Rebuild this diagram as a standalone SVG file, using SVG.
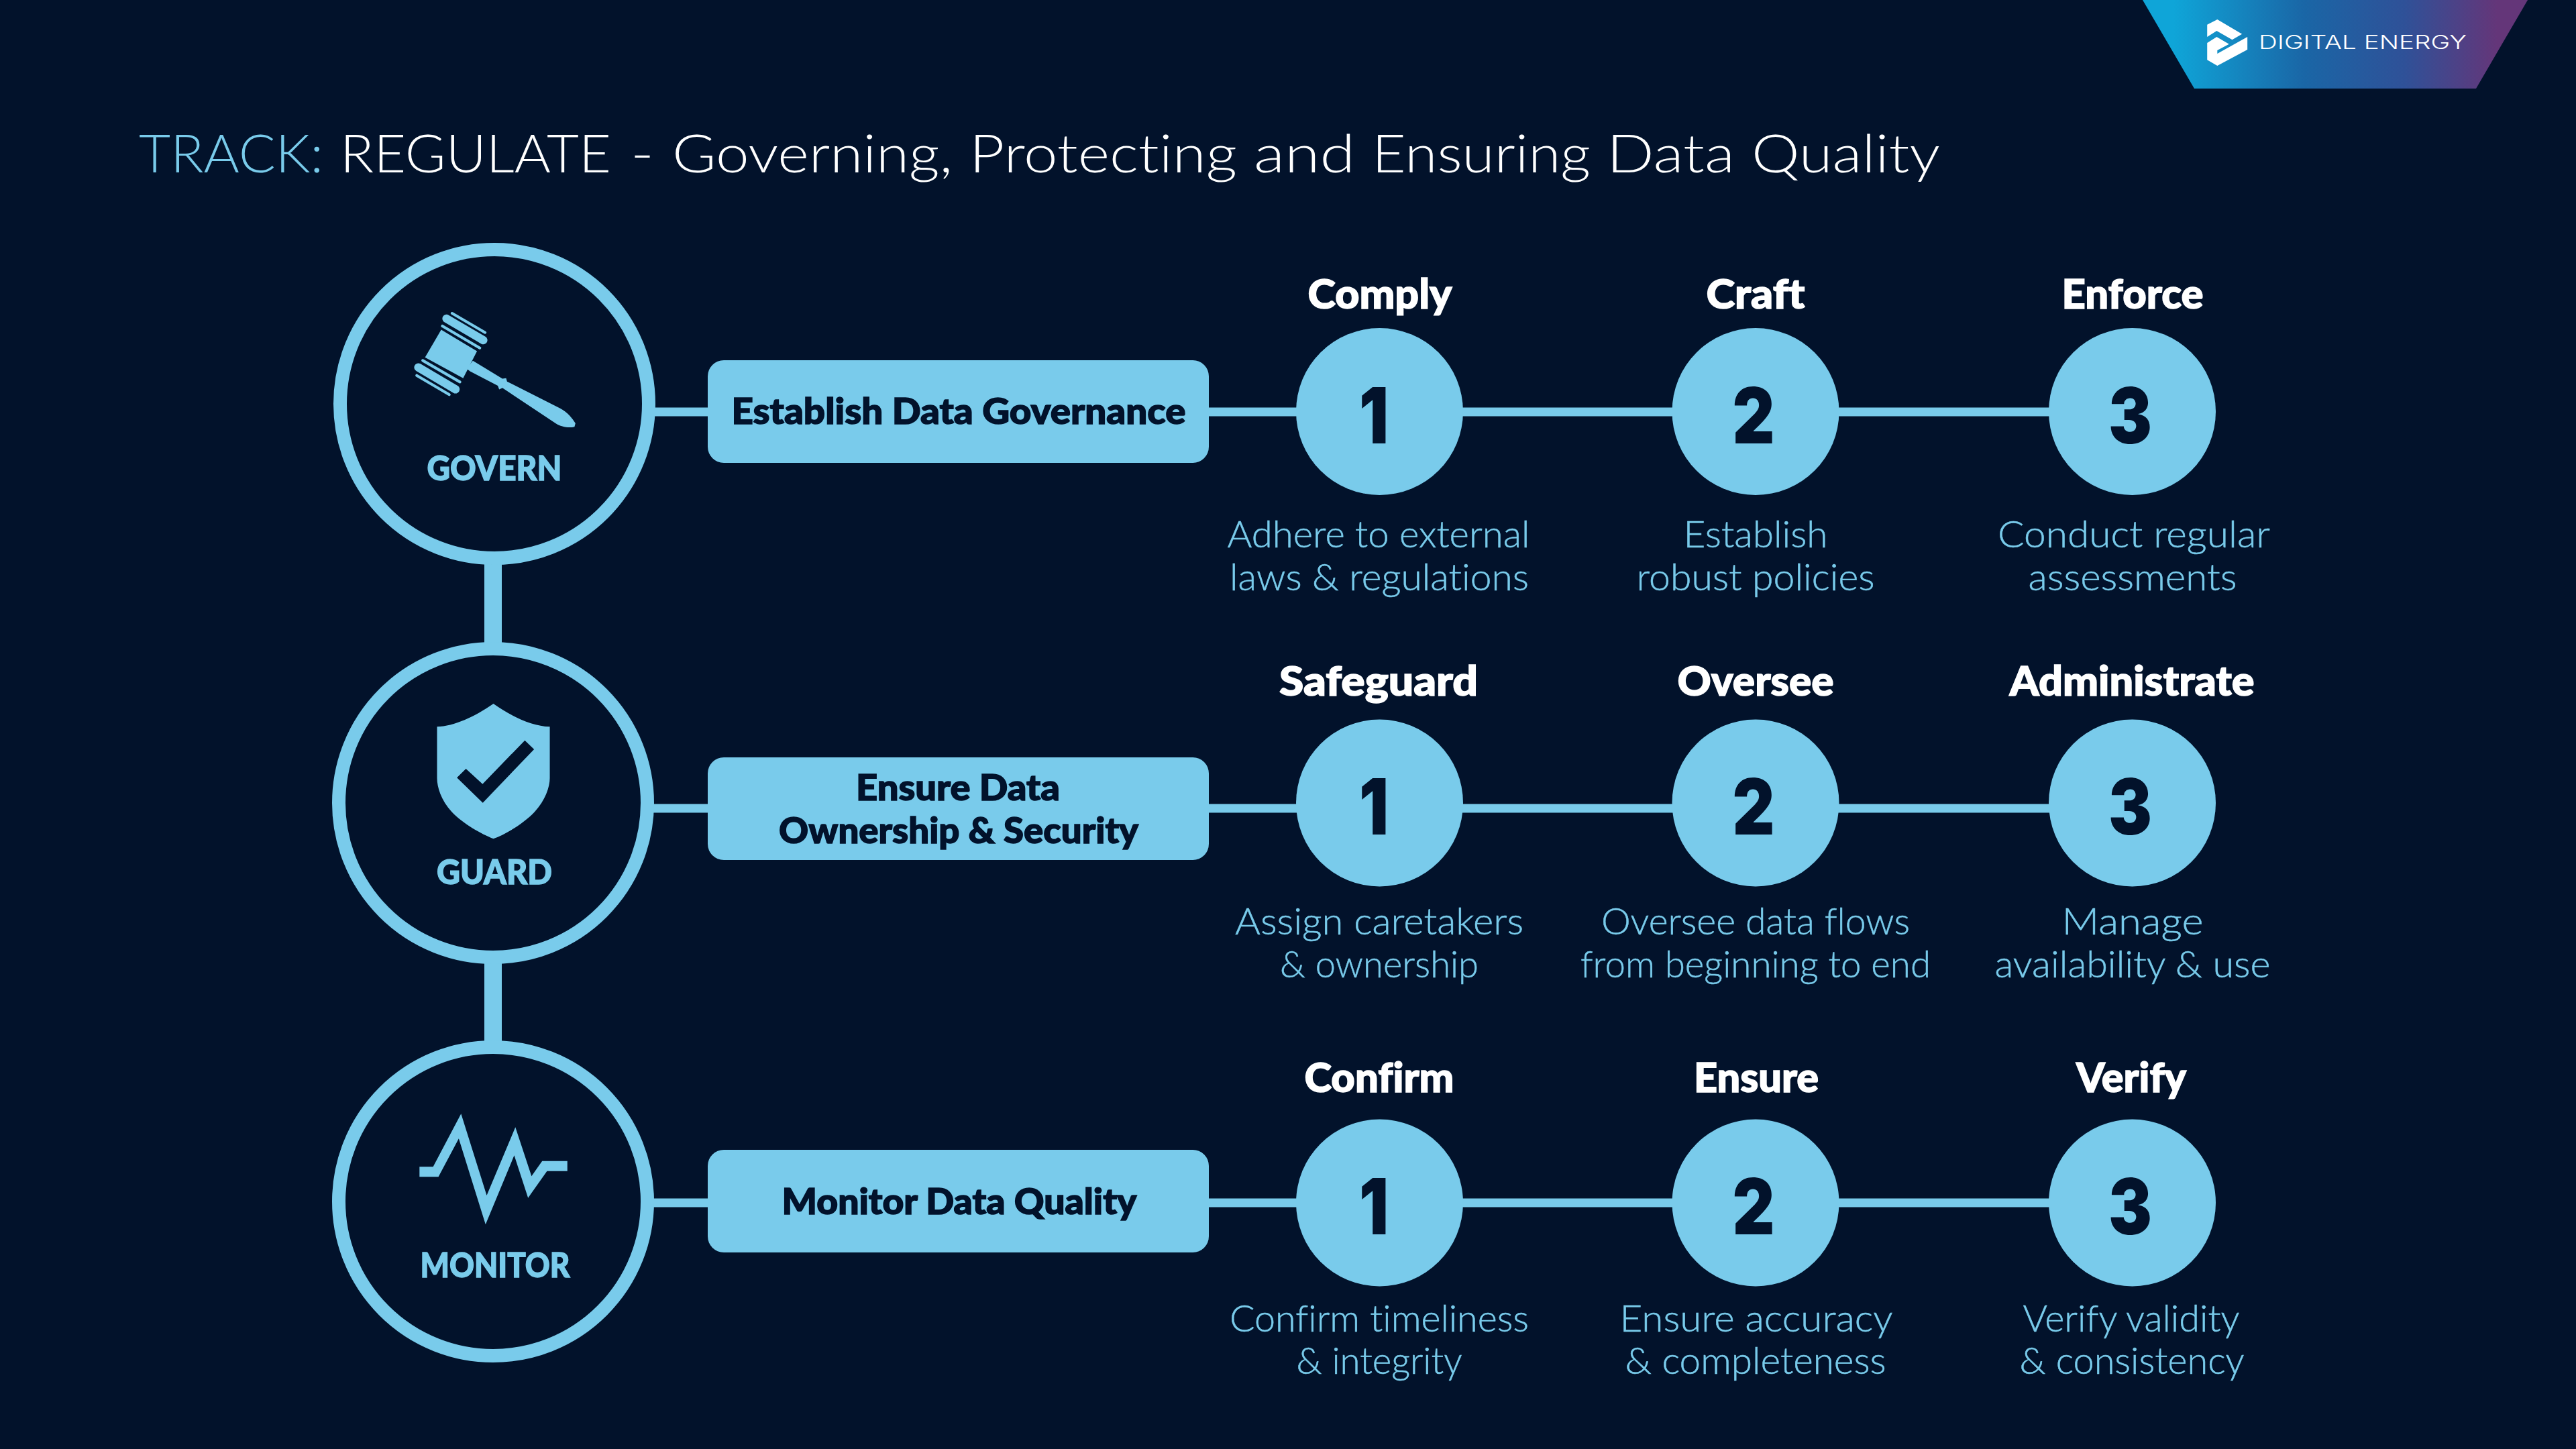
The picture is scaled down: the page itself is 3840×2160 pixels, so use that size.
<svg xmlns="http://www.w3.org/2000/svg" width="3840" height="2160" viewBox="0 0 3840 2160">
<defs>
<linearGradient id="bannerGrad" x1="0" y1="0" x2="1" y2="0">
<stop offset="0.08" stop-color="#0fa5d8"/><stop offset="0.42" stop-color="#1a66a6"/><stop offset="0.68" stop-color="#2f5198"/><stop offset="0.92" stop-color="#643679"/>
</linearGradient>
</defs>
<style>
.l{fill:#79cbeb}
.d{fill:#02122b}
.ring{fill:#02122b;stroke:#79cbeb;stroke-width:20}
.conn{stroke:#79cbeb;fill:none}
text{font-family:"Lato","Liberation Sans",sans-serif;text-anchor:middle;font-variant-ligatures:none}
.title{font-size:78px;font-weight:300;text-anchor:start;fill:#fff}
.nl{font-size:52px;font-weight:900;fill:#79cbeb;stroke:#79cbeb;stroke-width:1.5}
.bl{font-size:54px;font-weight:900;fill:#02122b;stroke:#02122b;stroke-width:1.5}
.h{font-size:60px;font-weight:900;fill:#fff;stroke:#fff;stroke-width:1.5}
.t{font-size:55px;font-weight:300;fill:#79cbeb;stroke:#79cbeb;stroke-width:.5}
.n{font-family:"Inter","Liberation Sans",sans-serif;font-size:115px;font-weight:900;fill:#02122b}
.lg{font-family:"Inter","Liberation Sans",sans-serif;font-size:28px;font-weight:300;fill:#fff}
</style>
<rect width="3840" height="2160" fill="#02122b"/>
<g id="banner">
<polygon points="3194,0 3768,0 3691,132 3271,132" fill="url(#bannerGrad)"/>
<g transform="translate(3100,0) scale(.472,.3333)" fill="#fff">
<polygon points="403,110 435,87 513,152 482,178 433,138 403,165"/>
<polygon points="403,192 433,165 472,197 435,225 435,240 530,165 530,222 435,294 403,268"/>
</g>
<text class="lg" x="3522" y="73" textLength="310" lengthAdjust="spacingAndGlyphs">DIGITAL ENERGY</text>
</g>
<text id="title" class="title" y="257"><tspan x="207" fill="#79cbeb" textLength="275" lengthAdjust="spacingAndGlyphs">TRACK:</tspan> <tspan x="507" textLength="404" lengthAdjust="spacingAndGlyphs">REGULATE</tspan> <tspan x="940" textLength="35" lengthAdjust="spacingAndGlyphs">-</tspan> <tspan x="1002" textLength="418" lengthAdjust="spacingAndGlyphs">Governing,</tspan> <tspan x="1445" textLength="399" lengthAdjust="spacingAndGlyphs">Protecting</tspan> <tspan x="1869" textLength="151" lengthAdjust="spacingAndGlyphs">and</tspan> <tspan x="2045" textLength="326" lengthAdjust="spacingAndGlyphs">Ensuring</tspan> <tspan x="2395" textLength="191" lengthAdjust="spacingAndGlyphs">Data</tspan> <tspan x="2611" textLength="281" lengthAdjust="spacingAndGlyphs">Quality</tspan></text>
<g id="connectors" class="conn">
<line x1="735" y1="835" x2="735" y2="965" stroke-width="26"/>
<line x1="735" y1="1430" x2="735" y2="1560" stroke-width="26"/>
<line x1="970" y1="614" x2="3060" y2="614" stroke-width="13"/>
<line x1="970" y1="1205" x2="3060" y2="1205" stroke-width="13"/>
<line x1="970" y1="1793" x2="3060" y2="1793" stroke-width="13"/>
</g>
<g id="govern">
<circle class="ring" cx="737" cy="602" r="230"/>
<g transform="translate(470,340) scale(.3444)">
<polygon class="l" points="545,440 700,533 640,650 475,560"/>
<g class="conn" stroke-linecap="round">
<line x1="568" y1="392" x2="727" y2="485" stroke-width="36"/>
<line x1="592" y1="369" x2="735" y2="452" stroke-width="12"/>
<line x1="550" y1="424" x2="712" y2="519" stroke-width="12"/>
<line x1="465" y1="573" x2="626" y2="666" stroke-width="12"/>
<line x1="446" y1="603" x2="607" y2="698" stroke-width="36"/>
<line x1="439" y1="638" x2="580" y2="721" stroke-width="12"/>
</g>
<path class="l" d="M682,574 L705,588 L810,652 L826,650 L830,664 L1060,780 C1090,795 1115,825 1126,845 L1122,860 C1100,866 1065,862 1040,845 L810,692 L796,698 L790,682 L670,620 L655,608Z"/>
</g>
<text class="nl" x="737" y="716" textLength="201" lengthAdjust="spacingAndGlyphs">GOVERN</text>
</g>
<g id="guard">
<circle class="ring" cx="735" cy="1197" r="230"/>
<g transform="translate(470,940) scale(.3444,.3333)">
<path class="l" d="M771,327 C690,385 600,428 527,430 L527,660 C527,700 545,760 590,810 C640,865 720,910 771,931 C825,910 900,865 950,810 C995,760 1015,700 1015,660 L1015,430 C940,428 850,385 771,327Z"/>
<polygon class="d" points="613,658 652,618 724,686 907,491 947,531 725,770"/>
</g>
<text class="nl" x="737" y="1318" textLength="172" lengthAdjust="spacingAndGlyphs">GUARD</text>
</g>
<g id="monitor">
<circle class="ring" cx="735" cy="1791" r="230"/>
<polygon class="l" transform="translate(470,1540) scale(.3444,.3333)" points="451,598 510,598 631,361 742,726 866,421 936,640 982,572 1091,572 1091,617 1003,617 921,737 861,547 737,856 621,472 533,643 451,643"/>
<text class="nl" x="738" y="1904" textLength="223" lengthAdjust="spacingAndGlyphs">MONITOR</text>
</g>
<g id="box-governance">
<rect class="l" x="1055" y="537" width="747" height="153" rx="24"/>
<text class="bl" x="1429" y="632" textLength="677" lengthAdjust="spacingAndGlyphs">Establish Data Governance</text>
</g>
<g id="box-ownership">
<rect class="l" x="1055" y="1129" width="747" height="153" rx="24"/>
<text class="bl" x="1428" y="1193" textLength="304" lengthAdjust="spacingAndGlyphs">Ensure Data</text>
<text class="bl" x="1429" y="1257" textLength="536" lengthAdjust="spacingAndGlyphs">Ownership &amp; Security</text>
</g>
<g id="box-quality">
<rect class="l" x="1055" y="1714" width="747" height="153" rx="24"/>
<text class="bl" x="1430" y="1810" textLength="529" lengthAdjust="spacingAndGlyphs">Monitor Data Quality</text>
</g>
<g id="comply"><text class="h" x="2057" y="460" textLength="215" lengthAdjust="spacingAndGlyphs">Comply</text><circle class="l" cx="2056.5" cy="613.5" r="124.5"/><text class="n" x="2048" y="661" textLength="44" lengthAdjust="spacingAndGlyphs">1</text><text class="t" x="2055" y="816" textLength="451" lengthAdjust="spacingAndGlyphs">Adhere to external</text><text class="t" x="2056" y="880" textLength="446" lengthAdjust="spacingAndGlyphs">laws &amp; regulations</text></g>
<g id="craft"><text class="h" x="2617" y="460" textLength="147" lengthAdjust="spacingAndGlyphs">Craft</text><circle class="l" cx="2617" cy="613.5" r="124.5"/><text class="n" x="2614" y="661" textLength="63" lengthAdjust="spacingAndGlyphs">2</text><text class="t" x="2617" y="816" textLength="215" lengthAdjust="spacingAndGlyphs">Establish</text><text class="t" x="2617" y="880" textLength="355" lengthAdjust="spacingAndGlyphs">robust policies</text></g>
<g id="enforce"><text class="h" x="3179" y="460" textLength="211" lengthAdjust="spacingAndGlyphs">Enforce</text><circle class="l" cx="3178.5" cy="613.5" r="124.5"/><text class="n" x="3175.5" y="661" textLength="65" lengthAdjust="spacingAndGlyphs">3</text><text class="t" x="3181" y="816" textLength="406" lengthAdjust="spacingAndGlyphs">Conduct regular</text><text class="t" x="3179" y="880" textLength="311" lengthAdjust="spacingAndGlyphs">assessments</text></g>
<g id="safeguard"><text class="h" x="2055" y="1037" textLength="296" lengthAdjust="spacingAndGlyphs">Safeguard</text><circle class="l" cx="2056.5" cy="1197" r="124.5"/><text class="n" x="2048" y="1244" textLength="44" lengthAdjust="spacingAndGlyphs">1</text><text class="t" x="2056" y="1393" textLength="430" lengthAdjust="spacingAndGlyphs">Assign caretakers</text><text class="t" x="2056" y="1457" textLength="296" lengthAdjust="spacingAndGlyphs">&amp; ownership</text></g>
<g id="oversee"><text class="h" x="2617" y="1037" textLength="233" lengthAdjust="spacingAndGlyphs">Oversee</text><circle class="l" cx="2617" cy="1197" r="124.5"/><text class="n" x="2614" y="1244" textLength="63" lengthAdjust="spacingAndGlyphs">2</text><text class="t" x="2617" y="1393" textLength="460" lengthAdjust="spacingAndGlyphs">Oversee data flows</text><text class="t" x="2617" y="1457" textLength="522" lengthAdjust="spacingAndGlyphs">from beginning to end</text></g>
<g id="administrate"><text class="h" x="3178" y="1037" textLength="365" lengthAdjust="spacingAndGlyphs">Administrate</text><circle class="l" cx="3178.5" cy="1197" r="124.5"/><text class="n" x="3175.5" y="1244" textLength="65" lengthAdjust="spacingAndGlyphs">3</text><text class="t" x="3179" y="1393" textLength="211" lengthAdjust="spacingAndGlyphs">Manage</text><text class="t" x="3179" y="1457" textLength="411" lengthAdjust="spacingAndGlyphs">availability &amp; use</text></g>
<g id="confirm"><text class="h" x="2056" y="1628" textLength="223" lengthAdjust="spacingAndGlyphs">Confirm</text><circle class="l" cx="2056.5" cy="1793" r="124.5"/><text class="n" x="2048" y="1840" textLength="44" lengthAdjust="spacingAndGlyphs">1</text><text class="t" x="2056" y="1985" textLength="446" lengthAdjust="spacingAndGlyphs">Confirm timeliness</text><text class="t" x="2056" y="2048" textLength="247" lengthAdjust="spacingAndGlyphs">&amp; integrity</text></g>
<g id="ensure"><text class="h" x="2618" y="1628" textLength="186" lengthAdjust="spacingAndGlyphs">Ensure</text><circle class="l" cx="2617" cy="1793" r="124.5"/><text class="n" x="2614" y="1840" textLength="63" lengthAdjust="spacingAndGlyphs">2</text><text class="t" x="2618" y="1985" textLength="407" lengthAdjust="spacingAndGlyphs">Ensure accuracy</text><text class="t" x="2617" y="2048" textLength="389" lengthAdjust="spacingAndGlyphs">&amp; completeness</text></g>
<g id="verify"><text class="h" x="3177" y="1628" textLength="164" lengthAdjust="spacingAndGlyphs">Verify</text><circle class="l" cx="3178.5" cy="1793" r="124.5"/><text class="n" x="3175.5" y="1840" textLength="65" lengthAdjust="spacingAndGlyphs">3</text><text class="t" x="3177" y="1985" textLength="323" lengthAdjust="spacingAndGlyphs">Verify validity</text><text class="t" x="3178" y="2048" textLength="335" lengthAdjust="spacingAndGlyphs">&amp; consistency</text></g>
</svg>
